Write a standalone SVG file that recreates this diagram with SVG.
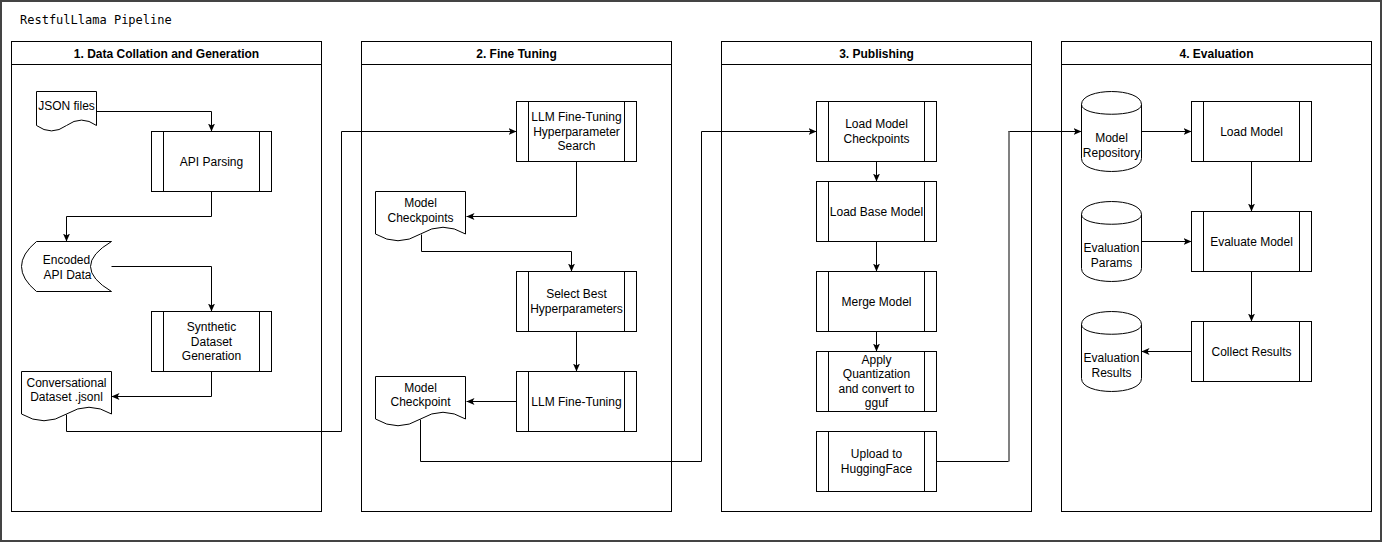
<svg xmlns="http://www.w3.org/2000/svg" width="1382" height="542" viewBox="0 0 1382 542">
<defs>
<style>
.frame{fill:#fff;stroke:#444;stroke-width:2}
.lane{fill:#fff;stroke:#000;stroke-width:1}
.box{fill:#fff;stroke:#000;stroke-width:1}
.ln{fill:none;stroke:#000;stroke-width:1}
.t{font-family:"Liberation Sans",Arial,Helvetica,sans-serif;font-size:12px;text-anchor:middle;fill:#000}
.h{font-family:"Liberation Sans",Arial,Helvetica,sans-serif;font-size:12px;font-weight:bold;text-anchor:middle;fill:#000}
.title{font-family:"DejaVu Sans Mono","Liberation Mono",monospace;font-size:12px;fill:#000}
.edge{fill:none;stroke:#000;stroke-width:1}
</style>
<marker id="arr" viewBox="0 0 8 8" refX="8" refY="4" markerWidth="8" markerHeight="8" markerUnits="userSpaceOnUse" orient="auto">
<path d="M0,0.5 L8,4 L0,7.5 L2,4 Z" fill="#000"/>
</marker>
</defs>
<rect class="frame" x="1" y="1" width="1380" height="540"/>
<text class="title" x="20" y="24">RestfulLlama Pipeline</text>
<g transform="translate(0.5,0.5)">
<g id="lane1">
<rect class="lane" x="11" y="41" width="310" height="470"/>
<line class="ln" x1="11" y1="64" x2="321" y2="64"/>
<text class="h" x="166" y="57">1. Data Collation and Generation</text>
</g>
<g id="lane2">
<rect class="lane" x="361" y="41" width="310" height="470"/>
<line class="ln" x1="361" y1="64" x2="671" y2="64"/>
<text class="h" x="516" y="57">2. Fine Tuning</text>
</g>
<g id="lane3">
<rect class="lane" x="721" y="41" width="310" height="470"/>
<line class="ln" x1="721" y1="64" x2="1031" y2="64"/>
<text class="h" x="876" y="57">3. Publishing</text>
</g>
<g id="lane4">
<rect class="lane" x="1061" y="41" width="310" height="470"/>
<line class="ln" x1="1061" y1="64" x2="1371" y2="64"/>
<text class="h" x="1216" y="57">4. Evaluation</text>
</g>

<g id="connectors">
<path class="edge" d="M96,111 H211 V131" marker-end="url(#arr)"/>
<path class="edge" d="M211,191 V216 H66 V241" marker-end="url(#arr)"/>
<path class="edge" d="M111,266 H211 V311" marker-end="url(#arr)"/>
<path class="edge" d="M211,371 V396 H111" marker-end="url(#arr)"/>
<path class="edge" d="M66,414 V431 H341 V131 H516" marker-end="url(#arr)"/>
<path class="edge" d="M576,161 V216 H466" marker-end="url(#arr)"/>
<path class="edge" d="M421,234 V251 H571 V271" marker-end="url(#arr)"/>
<path class="edge" d="M576,331 V371" marker-end="url(#arr)"/>
<path class="edge" d="M516,401 H466" marker-end="url(#arr)"/>
<path class="edge" d="M420,419 V461 H701 V131 H816" marker-end="url(#arr)"/>
<path class="edge" d="M876,161 V181" marker-end="url(#arr)"/>
<path class="edge" d="M876,241 V271" marker-end="url(#arr)"/>
<path class="edge" d="M876,331 V351" marker-end="url(#arr)"/>
<path class="edge" d="M936,461 H1008 V131 H1081" marker-end="url(#arr)"/>
<line x1="1008.5" y1="461" x2="1008.5" y2="131" stroke="#808080" stroke-width="2"/>
<path class="edge" d="M1141,131 H1191" marker-end="url(#arr)"/>
<path class="edge" d="M1251,161 V211" marker-end="url(#arr)"/>
<path class="edge" d="M1141,241 H1191" marker-end="url(#arr)"/>
<path class="edge" d="M1251,271 V321" marker-end="url(#arr)"/>
<path class="edge" d="M1191,351 H1141" marker-end="url(#arr)"/>
</g>

<g id="json-files">
<path class="box" d="M36,91 H96 V125 Q81,114.2 66,125 Q51,135.8 36,125 Z"/>
<text class="t" x="66" y="109">JSON files</text>
</g>
<g id="api-parsing">
<rect class="box" x="151" y="131" width="120" height="60"/>
<line class="ln" x1="163" y1="131" x2="163" y2="191"/><line class="ln" x1="259" y1="131" x2="259" y2="191"/>
<text class="t" x="211" y="165">API Parsing</text>
</g>
<g id="encoded-api-data">
<path class="box" d="M36,241 H111 Q69,266 111,291 H36 Q6,266 36,241 Z"/>
<text class="t" x="66" y="263.5">Encoded</text>
<text class="t" x="67" y="278.5">API Data</text>
</g>
<g id="synthetic-dataset">
<rect class="box" x="151" y="311" width="120" height="60"/>
<line class="ln" x1="163" y1="311" x2="163" y2="371"/><line class="ln" x1="259" y1="311" x2="259" y2="371"/>
<text class="t" x="211" y="330.5">Synthetic</text>
<text class="t" x="211" y="345">Dataset</text>
<text class="t" x="211" y="359.5">Generation</text>
</g>
<g id="conversational-dataset">
<path class="box" d="M21,371 H111 V413.5 Q88.5,400 66,413.5 Q43.5,427 21,413.5 Z"/>
<text class="t" x="66" y="386">Conversational</text>
<text class="t" x="66" y="400.5">Dataset .jsonl</text>
</g>

<g id="llm-hp-search">
<rect class="box" x="516" y="101" width="120" height="60"/>
<line class="ln" x1="528" y1="101" x2="528" y2="161"/><line class="ln" x1="624" y1="101" x2="624" y2="161"/>
<text class="t" x="576" y="120.5">LLM Fine-Tuning</text>
<text class="t" x="576" y="135">Hyperparameter</text>
<text class="t" x="576" y="149.5">Search</text>
</g>
<g id="model-checkpoints">
<path class="box" d="M375,191 H465 V233.5 Q442.5,220 420,233.5 Q397.5,247 375,233.5 Z"/>
<text class="t" x="420" y="206.5">Model</text>
<text class="t" x="420" y="221">Checkpoints</text>
</g>
<g id="select-best">
<rect class="box" x="516" y="271" width="120" height="60"/>
<line class="ln" x1="528" y1="271" x2="528" y2="331"/><line class="ln" x1="624" y1="271" x2="624" y2="331"/>
<text class="t" x="576" y="297.5">Select Best</text>
<text class="t" x="576" y="312">Hyperparameters</text>
</g>
<g id="llm-fine-tuning">
<rect class="box" x="516" y="371" width="120" height="60"/>
<line class="ln" x1="528" y1="371" x2="528" y2="431"/><line class="ln" x1="624" y1="371" x2="624" y2="431"/>
<text class="t" x="576" y="405">LLM Fine-Tuning</text>
</g>
<g id="model-checkpoint">
<path class="box" d="M375,376 H465 V418.5 Q442.5,405 420,418.5 Q397.5,432 375,418.5 Z"/>
<text class="t" x="420" y="391">Model</text>
<text class="t" x="420" y="405.5">Checkpoint</text>
</g>

<g id="load-model-checkpoints">
<rect class="box" x="816" y="101" width="120" height="60"/>
<line class="ln" x1="828" y1="101" x2="828" y2="161"/><line class="ln" x1="924" y1="101" x2="924" y2="161"/>
<text class="t" x="876" y="127.5">Load Model</text>
<text class="t" x="876" y="142">Checkpoints</text>
</g>
<g id="load-base-model">
<rect class="box" x="816" y="181" width="120" height="60"/>
<line class="ln" x1="828" y1="181" x2="828" y2="241"/><line class="ln" x1="924" y1="181" x2="924" y2="241"/>
<text class="t" x="876" y="215">Load Base Model</text>
</g>
<g id="merge-model">
<rect class="box" x="816" y="271" width="120" height="60"/>
<line class="ln" x1="828" y1="271" x2="828" y2="331"/><line class="ln" x1="924" y1="271" x2="924" y2="331"/>
<text class="t" x="876" y="305">Merge Model</text>
</g>
<g id="apply-quantization">
<rect class="box" x="816" y="351" width="120" height="60"/>
<line class="ln" x1="828" y1="351" x2="828" y2="411"/><line class="ln" x1="924" y1="351" x2="924" y2="411"/>
<text class="t" x="876" y="363.25">Apply</text>
<text class="t" x="876" y="377.75">Quantization</text>
<text class="t" x="876" y="392.25">and convert to</text>
<text class="t" x="876" y="406.75">gguf</text>
</g>
<g id="upload-hf">
<rect class="box" x="816" y="431" width="120" height="60"/>
<line class="ln" x1="828" y1="431" x2="828" y2="491"/><line class="ln" x1="924" y1="431" x2="924" y2="491"/>
<text class="t" x="876" y="457.5">Upload to</text>
<text class="t" x="876" y="472">HuggingFace</text>
</g>

<g id="model-repository">
<path class="box" d="M1081,104 C1081,86.7 1141,86.7 1141,104 V158 C1141,175.3 1081,175.3 1081,158 Z"/>
<path class="ln" d="M1081,104 C1081,117 1141,117 1141,104"/>
<text class="t" x="1111" y="141">Model</text>
<text class="t" x="1111" y="156">Repository</text>
</g>
<g id="load-model">
<rect class="box" x="1191" y="101" width="120" height="60"/>
<line class="ln" x1="1203" y1="101" x2="1203" y2="161"/><line class="ln" x1="1299" y1="101" x2="1299" y2="161"/>
<text class="t" x="1251" y="135">Load Model</text>
</g>
<g id="evaluation-params">
<path class="box" d="M1081,214 C1081,196.7 1141,196.7 1141,214 V268 C1141,285.3 1081,285.3 1081,268 Z"/>
<path class="ln" d="M1081,214 C1081,227 1141,227 1141,214"/>
<text class="t" x="1111" y="251">Evaluation</text>
<text class="t" x="1111" y="266">Params</text>
</g>
<g id="evaluate-model">
<rect class="box" x="1191" y="211" width="120" height="60"/>
<line class="ln" x1="1203" y1="211" x2="1203" y2="271"/><line class="ln" x1="1299" y1="211" x2="1299" y2="271"/>
<text class="t" x="1251" y="245">Evaluate Model</text>
</g>
<g id="evaluation-results">
<path class="box" d="M1081,324 C1081,306.7 1141,306.7 1141,324 V378 C1141,395.3 1081,395.3 1081,378 Z"/>
<path class="ln" d="M1081,324 C1081,337 1141,337 1141,324"/>
<text class="t" x="1111" y="361">Evaluation</text>
<text class="t" x="1111" y="376">Results</text>
</g>
<g id="collect-results">
<rect class="box" x="1191" y="321" width="120" height="60"/>
<line class="ln" x1="1203" y1="321" x2="1203" y2="381"/><line class="ln" x1="1299" y1="321" x2="1299" y2="381"/>
<text class="t" x="1251" y="355">Collect Results</text>
</g>
</g>
</svg>
